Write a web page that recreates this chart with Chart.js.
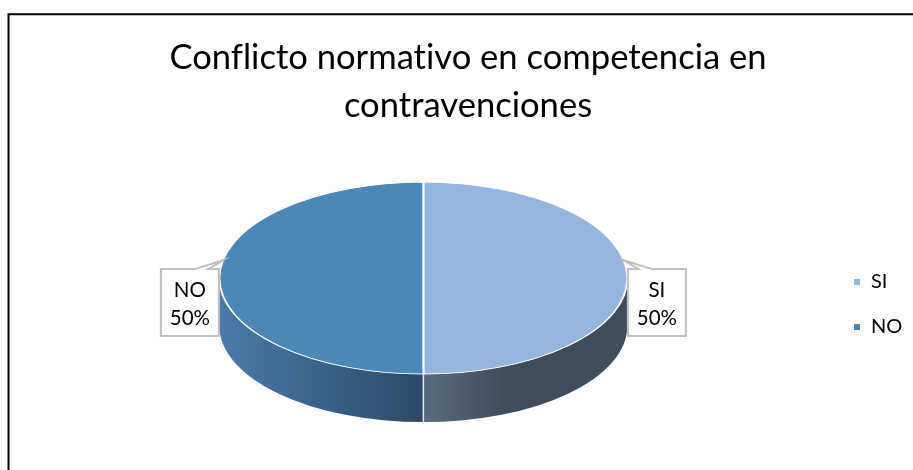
<!DOCTYPE html>
<html>
<head>
<meta charset="utf-8">
<style>html,body{margin:0;padding:0;background:#fff}canvas{display:block}</style>
<script src="https://cdn.jsdelivr.net/npm/chart.js@4"></script>
</head>
<body>
<canvas id="c" width="913" height="470"></canvas>
<script>
const categories = ['SI', 'NO'];
const values = [50, 50];
const colors = ['#95b6de', '#4c87ba'];
const titleLines = ['Conflicto normativo en competencia en', 'contravenciones'];

const FONT = 'Lato, Carlito, Calibri, sans-serif';
const SQUASH = 96 / 204, DEPTH = 48;
const wallStops = [
  [[0, '#5a6b82'], [0.4, '#3f4c5a'], [1, '#3f4c5a']],
  [[0, '#4a7ba6'], [1, '#2b4969']]
];

const pie3d = {
  id: 'pie3d',
  afterLayout(chart) {
    const l = chart.legend;
    const w = l.width, h = l.height;
    l.left = 828; l.right = l.left + w;
    l.top = 96.5; l.bottom = l.top + h;
    chart.titleBlock.left += 5;
  },
  beforeDraw(chart) {
    const ctx = chart.ctx;
    ctx.textRendering = 'optimizeSpeed';
    ctx.save();
    ctx.fillStyle = '#fff';
    ctx.fillRect(0, 0, chart.width, chart.height);
    ctx.strokeStyle = '#000';
    ctx.lineWidth = 2;
    ctx.beginPath();
    ctx.moveTo(8.5, chart.height);
    ctx.lineTo(8.5, 14.2);
    ctx.lineTo(chart.width, 14.2);
    ctx.stroke();
    ctx.restore();
  },
  beforeDatasetsDraw(chart) {
    const ctx = chart.ctx;
    const arcs = chart.getDatasetMeta(0).data;
    ctx.save();
    arcs.forEach((arc, i) => {
      const { x, y, startAngle, endAngle, outerRadius: r } = arc.getProps(['x', 'y', 'startAngle', 'endAngle', 'outerRadius'], true);
      const a0 = Math.max(startAngle, 0);
      const a1 = Math.min(endAngle, Math.PI);
      if (a1 <= a0) return;
      const xa = x + r * Math.cos(a0), xb = x + r * Math.cos(a1);
      const g = ctx.createLinearGradient(Math.min(xa, xb), 0, Math.max(xa, xb), 0);
      const stops = wallStops[i];
      stops.forEach(s => g.addColorStop(s[0], s[1]));
      ctx.beginPath();
      ctx.ellipse(x, y, r, r * SQUASH, 0, a0, a1);
      ctx.ellipse(x, y + DEPTH, r, r * SQUASH, 0, a1, a0, true);
      ctx.closePath();
      ctx.fillStyle = g;
      ctx.fill();
    });
    const c = arcs[0].getProps(['x', 'y', 'outerRadius'], true);
    ctx.strokeStyle = '#dfe5ec';
    ctx.lineWidth = 1.5;
    ctx.beginPath();
    ctx.moveTo(c.x, c.y + c.outerRadius * SQUASH);
    ctx.lineTo(c.x, c.y + c.outerRadius * SQUASH + DEPTH);
    ctx.stroke();
    ctx.restore();

    ctx.save();
    ctx.translate(c.x, c.y);
    ctx.scale(1, SQUASH);
    ctx.translate(-c.x, -c.y);
  },
  afterDatasetsDraw(chart) {
    const ctx = chart.ctx;
    ctx.restore();
    const arcs = chart.getDatasetMeta(0).data;
    const total = values.reduce((a, b) => a + b, 0);
    arcs.forEach((arc, i) => {
      const { x, y, startAngle, endAngle, outerRadius: r } = arc.getProps(['x', 'y', 'startAngle', 'endAngle', 'outerRadius'], true);
      const side = Math.cos((startAngle + endAngle) / 2) >= 0 ? 1 : -1;
      const near = x + side * (r + 0.5);
      const far = near + side * 58;
      const top = y - 9, bottom = y + 58;
      ctx.save();
      ctx.beginPath();
      ctx.moveTo(near, top);
      ctx.lineTo(near + side * 10.5, top);
      ctx.lineTo(x + side * (r - 4), y - 18);
      ctx.lineTo(near + side * 24, top);
      ctx.lineTo(far, top);
      ctx.lineTo(far, bottom);
      ctx.lineTo(near, bottom);
      ctx.closePath();
      ctx.fillStyle = '#fff';
      ctx.fill();
      ctx.strokeStyle = '#bfbfbf';
      ctx.lineWidth = 2;
      ctx.stroke();
      ctx.fillStyle = '#000';
      ctx.font = '20.5px ' + FONT;
      ctx.textAlign = 'center';
      ctx.textBaseline = 'middle';
      const mid = (near + far) / 2;
      ctx.fillText(categories[i], mid, y + 12);
      ctx.fillText(Math.round(values[i] / total * 100) + '%', mid, y + 40);
      ctx.restore();
    });
  }
};

new Chart(document.getElementById('c'), {
  type: 'pie',
  data: {
    labels: categories,
    datasets: [{
      data: values,
      backgroundColor: colors,
      borderColor: '#ffffff',
      borderWidth: 2,
      clip: false
    }]
  },
  options: {
    responsive: false,
    animation: false,
    radius: 204,
    layout: { padding: { left: 18, bottom: 54 } },
    plugins: {
      tooltip: { enabled: false },
      title: {
        display: true,
        text: titleLines,
        color: '#000',
        font: { family: FONT, size: 34.6, weight: 'normal', lineHeight: 1.39 },
        padding: { top: 34, bottom: 10 }
      },
      legend: {
        position: 'right',
        maxWidth: 90,
        labels: {
          color: '#000',
          boxWidth: 8,
          boxHeight: 8,
          padding: 25,
          font: { family: FONT, size: 20 }
        }
      }
    }
  },
  plugins: [pie3d]
});
</script>
</body>
</html>
